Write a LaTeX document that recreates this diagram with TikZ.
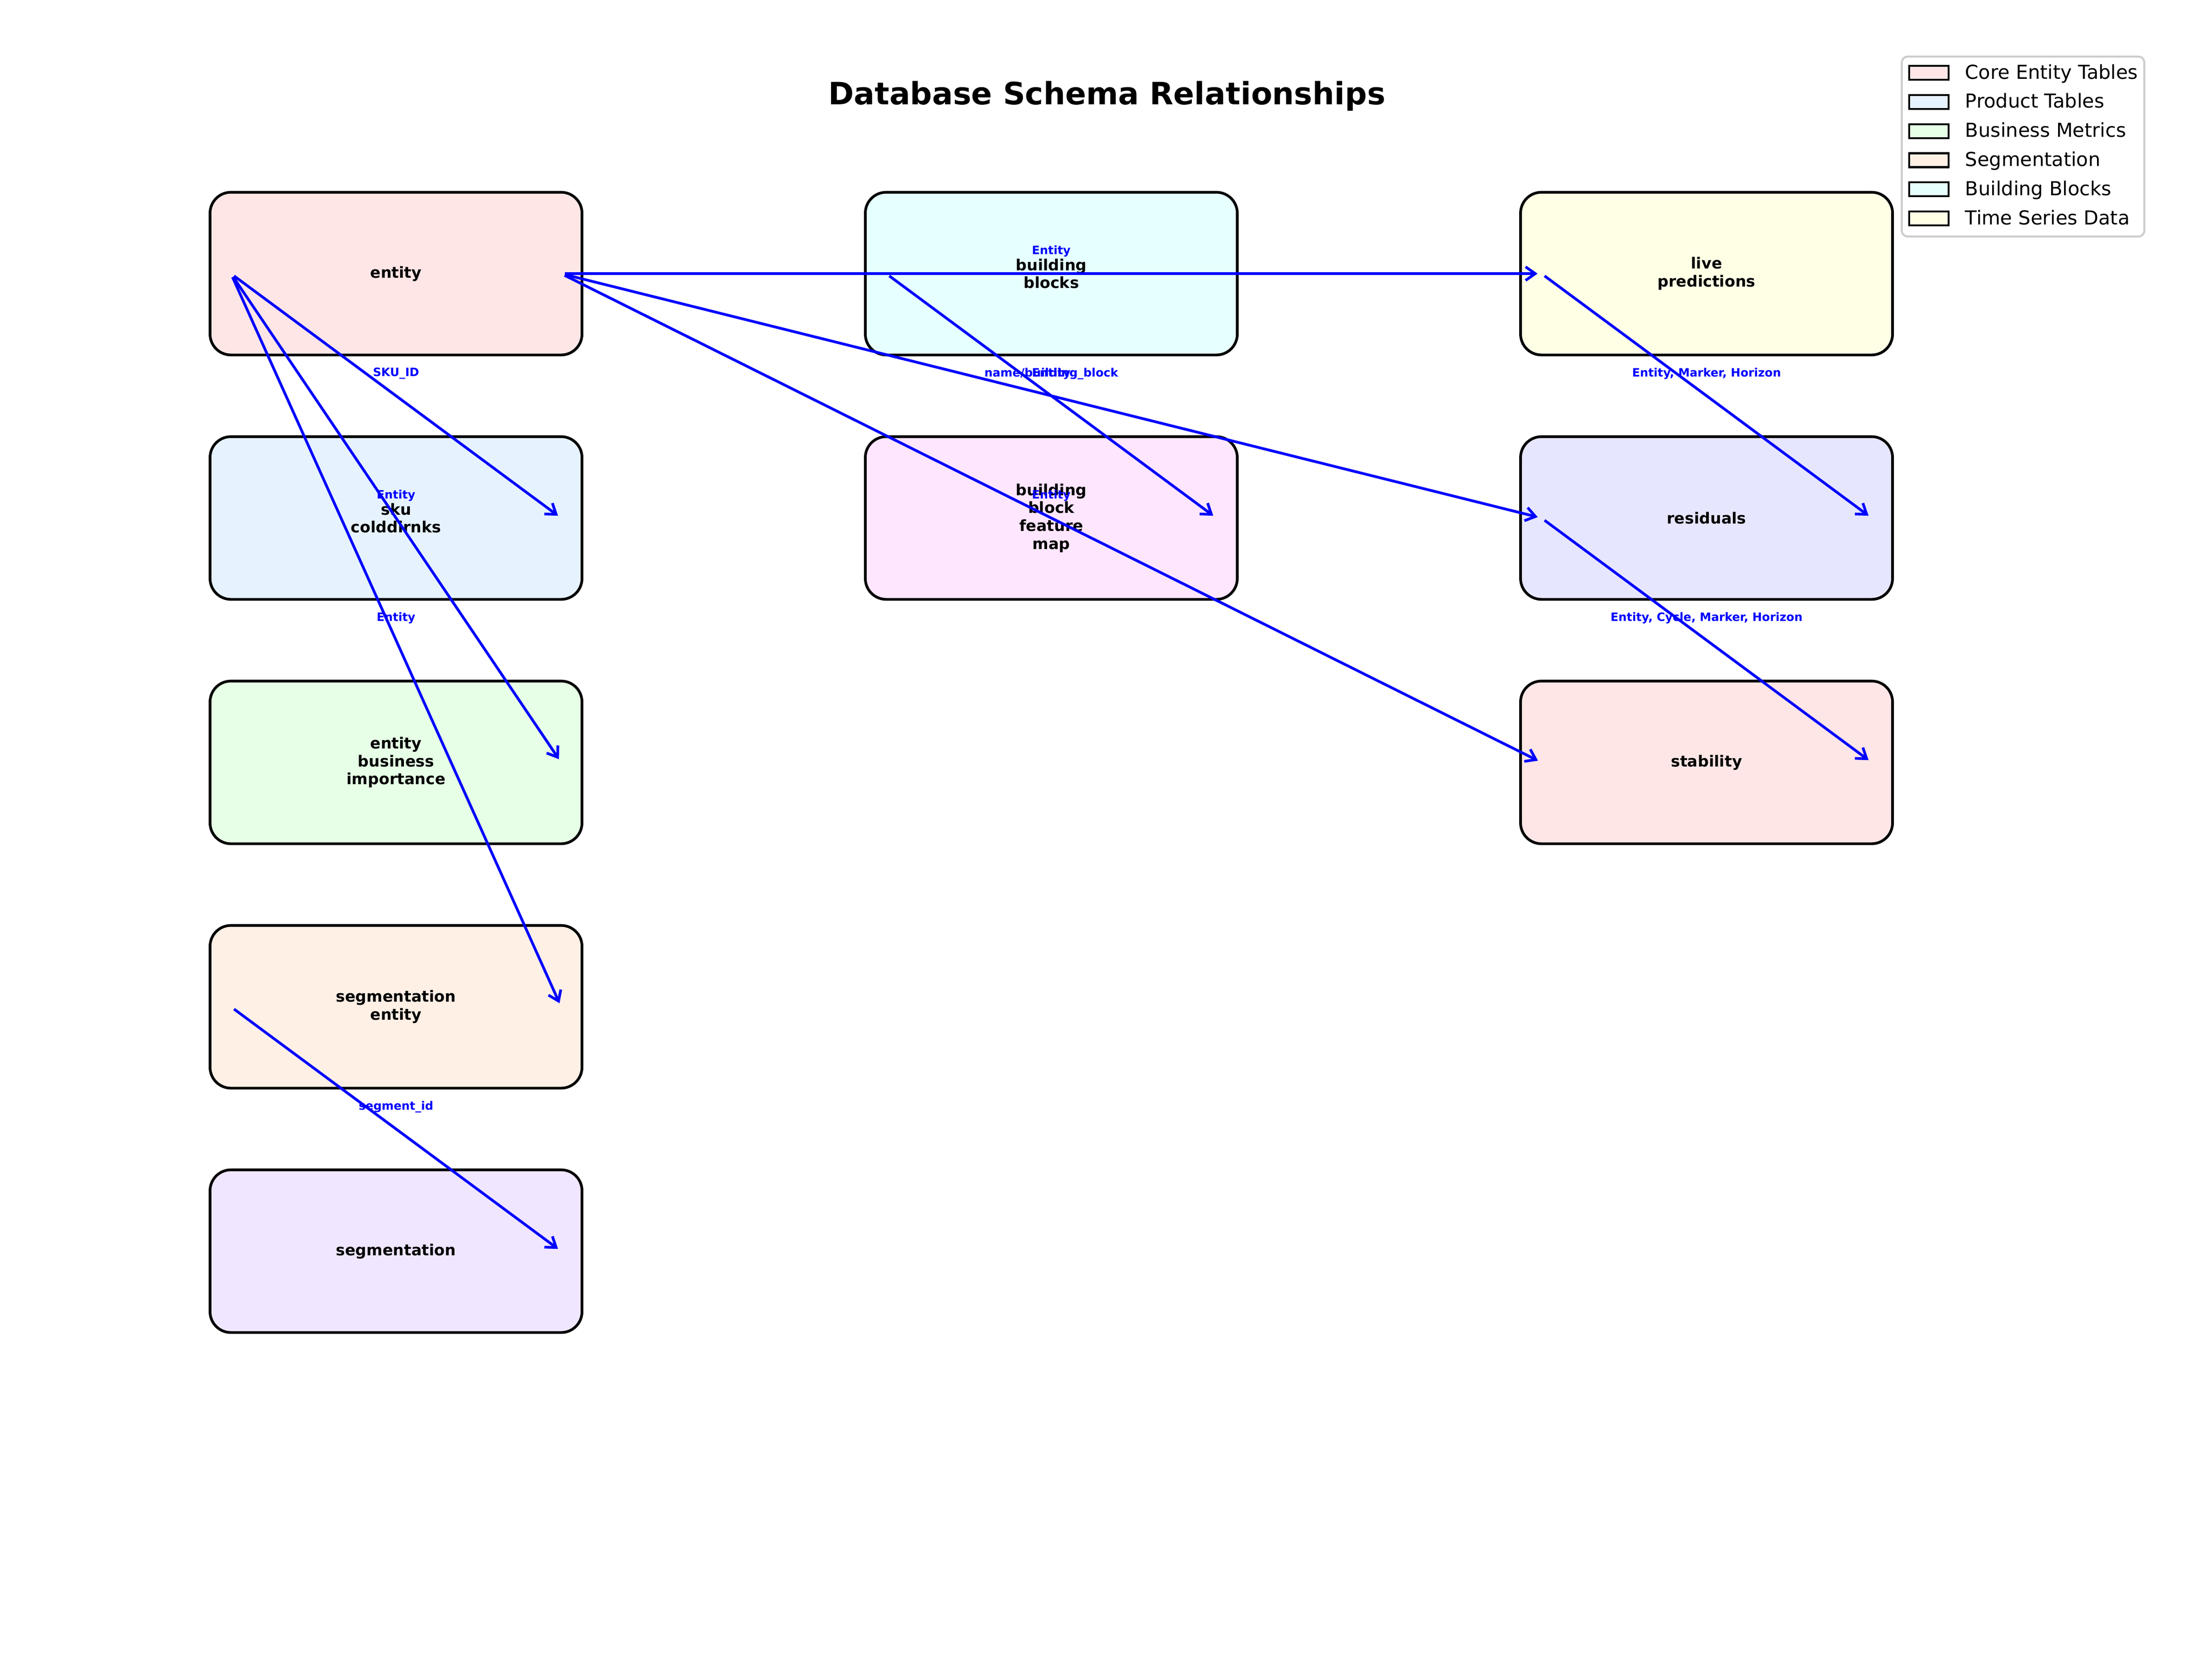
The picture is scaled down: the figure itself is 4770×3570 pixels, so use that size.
\documentclass[tikz,border=0pt]{standalone}
\usepackage{fontspec}
\setmainfont{DejaVu Sans}
\usetikzlibrary{arrows.meta,calc}
\definecolor{cCore}{HTML}{FFE6E6}
\definecolor{cProd}{HTML}{E6F3FF}
\definecolor{cBiz}{HTML}{E6FFE6}
\definecolor{cSeg}{HTML}{FFF0E6}
\definecolor{cBB}{HTML}{E6FFFF}
\definecolor{cTS}{HTML}{FFFFE6}
\definecolor{cRes}{HTML}{E6E6FF}
\definecolor{cMap}{HTML}{FFE6FF}
\definecolor{cSegm}{HTML}{F0E6FF}
\definecolor{relblue}{RGB}{0,0,255}
\definecolor{legframe}{gray}{0.8}
\begin{document}
\begin{tikzpicture}[x=0.24bp,y=-0.24bp,
  tbl/.style={draw=black, line width=1.4bp, rounded corners=10.8bp,
    minimum width=192.5bp, minimum height=84.2bp, inner sep=0pt,
    align=center, font=\fontsize{8}{9.3}\selectfont\bfseries},
  rel/.style={draw=relblue, line width=1.4bp,
    -{Straight Barb[length=5bp,width=7bp,line width=1.4bp]},
    shorten <=2bp, shorten >=2bp},
  rlab/.style={text=relblue, font=\fontsize{6}{7}\selectfont\bfseries, inner sep=0pt},
  legpatch/.style={draw=black, line width=1bp, minimum width=20.4bp,
    minimum height=7.2bp, inner sep=0pt},
  legtext/.style={font=\fontsize{10}{12}\selectfont, anchor=base west, inner sep=0pt}]
\useasboundingbox (0,0) rectangle (4770,3570);
\fill[white] (0,0) rectangle (4770,3570);

% title
\node[font=\fontsize{16}{19}\selectfont\bfseries, anchor=base, inner sep=0pt]
  (title) at (2387,225) {Database Schema Relationships};

% tables
\node[tbl, fill=cCore] (entity) at (854,590) {entity};
\node[tbl, fill=cProd] (sku) at (854,1117) {sku\\colddirnks};
\node[tbl, fill=cBiz] (ebi) at (854,1644) {entity\\business\\importance};
\node[tbl, fill=cSeg] (segent) at (854,2171) {segmentation\\entity};
\node[tbl, fill=cSegm] (seg) at (854,2698) {segmentation};
\node[tbl, fill=cBB] (bb) at (2267,590) {building\\blocks};
\node[tbl, fill=cMap] (bbfm) at (2267,1117) {building\\block\\feature\\map};
\node[tbl, fill=cTS] (live) at (3680,590) {live\\predictions};
\node[tbl, fill=cRes] (res) at (3680,1117) {residuals};
\node[tbl, fill=cCore] (stab) at (3680,1644) {stability};

% attachment points
\coordinate (entityL) at ($(entity.center)+(-356,0)$);
\coordinate (entityR) at ($(entity.center)+(356,0)$);
\coordinate (skuR) at ($(sku.center)+(356,0)$);
\coordinate (ebiR) at ($(ebi.center)+(356,0)$);
\coordinate (segentL) at ($(segent.center)+(-356,0)$);
\coordinate (segentR) at ($(segent.center)+(356,0)$);
\coordinate (segR) at ($(seg.center)+(356,0)$);
\coordinate (bbL) at ($(bb.center)+(-356,0)$);
\coordinate (bbfmR) at ($(bbfm.center)+(356,0)$);
\coordinate (liveL) at ($(live.center)+(-356,0)$);
\coordinate (resL) at ($(res.center)+(-356,0)$);
\coordinate (resR) at ($(res.center)+(356,0)$);
\coordinate (stabL) at ($(stab.center)+(-356,0)$);
\coordinate (stabR) at ($(stab.center)+(356,0)$);

% relationships
\draw[rel] (entityL) -- (skuR);
\draw[rel] (entityL) -- (ebiR);
\draw[rel] (entityL) -- (segentR);
\draw[rel] (segentL) -- (segR);
\draw[rel] (entityR) -- (liveL);
\draw[rel] (entityR) -- (resL);
\draw[rel] (entityR) -- (stabL);
\draw[rel] (bbL) -- (bbfmR);
\draw[rel] (liveL) -- (resR);
\draw[rel] (resL) -- (stabR);

% relationship labels
\node[rlab] (l1) at ($(entity)!0.5!(sku)+(0,-48)$) {SKU\_ID};
\node[rlab] (l2) at ($(entity)!0.5!(ebi)+(0,-48)$) {Entity};
\node[rlab] (l3) at ($(entity)!0.5!(segent)+(0,-48)$) {Entity};
\node[rlab] (l4) at ($(segent)!0.5!(seg)+(0,-48)$) {segment\_id};
\node[rlab] (l5) at ($(entity)!0.5!(live)+(0,-48)$) {Entity};
\node[rlab] (l6) at ($(entity)!0.5!(res)+(0,-48)$) {Entity};
\node[rlab] (l7) at ($(entity)!0.5!(stab)+(0,-48)$) {Entity};
\node[rlab] (l8) at ($(bb)!0.5!(bbfm)+(0,-48)$) {name/building\_block};
\node[rlab] (l9) at ($(live)!0.5!(res)+(0,-48)$) {Entity, Marker, Horizon};
\node[rlab] (l10) at ($(res)!0.5!(stab)+(0,-48)$) {Entity, Cycle, Marker, Horizon};

% legend
\draw[legframe, line width=1bp, fill=white, fill opacity=0.8, rounded corners=3bp]
  (4101,122) rectangle (4624,510);
\node[legpatch, fill=cCore] (p1) at (4159.5,157) {};
\node[legpatch, fill=cProd] (p2) at (4159.5,219.8) {};
\node[legpatch, fill=cBiz] (p3) at (4159.5,282.6) {};
\node[legpatch, fill=cSeg] (p4) at (4159.5,345.4) {};
\node[legpatch, fill=cBB] (p5) at (4159.5,408.2) {};
\node[legpatch, fill=cTS] (p6) at (4159.5,471) {};
\node[legtext] (t1) at (4237,170) {Core Entity Tables};
\node[legtext] (t2) at (4237,232.8) {Product Tables};
\node[legtext] (t3) at (4237,295.6) {Business Metrics};
\node[legtext] (t4) at (4237,358.4) {Segmentation};
\node[legtext] (t5) at (4237,421.2) {Building Blocks};
\node[legtext] (t6) at (4237,484) {Time Series Data};
\end{tikzpicture}
\end{document}
